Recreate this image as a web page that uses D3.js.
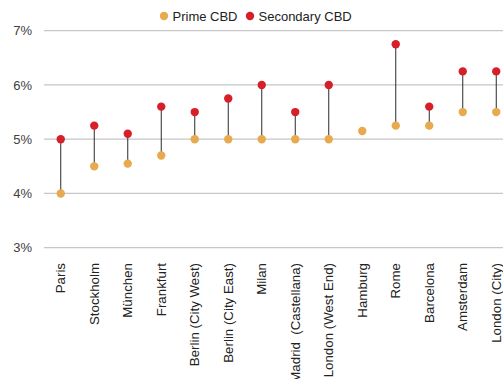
<!DOCTYPE html>
<html>
<head>
<meta charset="utf-8">
<script src="https://cdn.jsdelivr.net/npm/d3@7"></script>
<style>
  body { margin: 0; background: #fff; }
  svg { display: block; font-family: "Liberation Sans", Arial, sans-serif; }
  .cat { white-space: pre; }
</style>
</head>
<body>
<svg id="chart" width="503" height="379"></svg>
<script>
// Office yields by market: prime vs secondary CBD (%)
const cities = ["Paris", "Stockholm", "München", "Frankfurt", "Berlin (City West)",
  "Berlin (City East)", "Milan", "Madrid  (Castellana)", "London (West End)",
  "Hamburg", "Rome", "Barcelona", "Amsterdam", "London (City)"];
const primeCBD = [4.0, 4.5, 4.55, 4.7, 5.0, 5.0, 5.0, 5.0, 5.0, 5.15, 5.25, 5.25, 5.5, 5.5];
const secondaryCBD = [5.0, 5.25, 5.1, 5.6, 5.5, 5.75, 6.0, 5.5, 6.0, null, 6.75, 5.6, 6.25, 6.25];
const yTicks = [3, 4, 5, 6, 7];
const seriesNames = ["Prime CBD", "Secondary CBD"];
const seriesColors = ["#E8AA4E", "#D71F2A"];

const svg = d3.select("#chart");
const W = 503;

const x = d3.scaleBand().domain(cities).range([44, 44 + cities.length * 33.5]);
const y = d3.scaleLinear().domain([3, 7]).range([247.7, 30.7]);

// gridlines
svg.append("g").selectAll("line").data(yTicks).join("line")
  .attr("x1", 44).attr("x2", W)
  .attr("y1", d => y(d)).attr("y2", d => y(d))
  .attr("stroke", "#c6c6c6").attr("stroke-width", 1.2);

// y tick labels
svg.append("g").selectAll("text").data(yTicks).join("text")
  .attr("x", 32).attr("y", d => y(d))
  .attr("dy", "0.35em").attr("text-anchor", "end")
  .attr("font-size", 13).attr("fill", "#404040")
  .text(d => d + "%");

const rows = cities.map((c, i) => ({ city: c, prime: primeCBD[i], secondary: secondaryCBD[i] }));
const cx = d => x(d.city) + x.bandwidth() / 2;

// connectors
svg.append("g").selectAll("line").data(rows.filter(d => d.secondary != null)).join("line")
  .attr("x1", cx).attr("x2", cx)
  .attr("y1", d => y(d.prime)).attr("y2", d => y(d.secondary))
  .attr("stroke", "#2a2a2a").attr("stroke-width", 1);

// prime dots
svg.append("g").selectAll("circle").data(rows).join("circle")
  .attr("cx", cx).attr("cy", d => y(d.prime)).attr("r", 4.2)
  .attr("fill", seriesColors[0]);

// secondary dots
svg.append("g").selectAll("circle").data(rows.filter(d => d.secondary != null)).join("circle")
  .attr("cx", cx).attr("cy", d => y(d.secondary)).attr("r", 4.2)
  .attr("fill", seriesColors[1]);

// category labels
svg.append("g").selectAll("text").data(cities).join("text")
  .attr("class", "cat")
  .attr("transform", d => `translate(${x(d) + x.bandwidth() / 2},263) rotate(-90)`)
  .attr("dy", "0.35em").attr("text-anchor", "end")
  .attr("font-size", 13.3).attr("fill", "#222")
  .text(d => d);

// legend
const legendX = [164, 250];
const lg = svg.append("g").selectAll("g").data(seriesNames).join("g")
  .attr("transform", (d, i) => `translate(${legendX[i]},16)`);
lg.append("circle").attr("r", 4.2).attr("fill", (d, i) => seriesColors[i]);
lg.append("text").attr("x", 8.5).attr("dy", "0.35em")
  .attr("font-size", 13).attr("fill", "#222").text(d => d);
</script>
</body>
</html>
